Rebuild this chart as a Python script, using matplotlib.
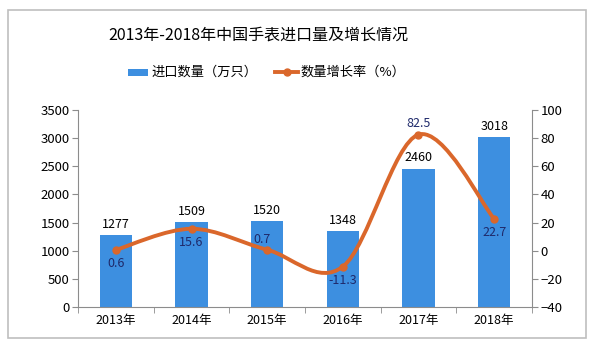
import matplotlib
matplotlib.use("Agg")
import matplotlib.pyplot as plt
from matplotlib.path import Path
from matplotlib.patches import PathPatch, Rectangle
import numpy as np

plt.rcParams['font.family'] = ['Noto Sans CJK SC', 'DejaVu Sans']

years = ['2013年', '2014年', '2015年', '2016年', '2017年', '2018年']
imports = [1277, 1509, 1520, 1348, 2460, 3018]
growth = [0.6, 15.6, 0.7, -11.3, 82.5, 22.7]
title = '2013年-2018年中国手表进口量及增长情况'
bar_name = '进口数量（万只）'
line_name = '数量增长率（%）'

bar_color = '#3D8FE0'
line_color = '#DA672B'
label_blue = '#1F2A6B'
axis_grey = '#8C8C8C'

fig = plt.figure(figsize=(6.0, 3.49), dpi=100)
fig.patches.append(Rectangle((8/600, 1-338/349), 578/600, 328/349, transform=fig.transFigure,
                             fill=False, edgecolor='#BFBFBF', linewidth=1.2))

ax = fig.add_axes([78/600, 1-307/349, 454/600, 197/349])
x = np.arange(len(years))
ax.bar(x, imports, width=0.43, color=bar_color, zorder=2)
ax.set_xlim(-0.5, len(years)-0.5)
ax.set_ylim(0, 3500)
ax.set_yticks(np.arange(0, 3501, 500))
ax.set_xticks(x)
ax.set_xticklabels(years)
ax.set_xticks(np.arange(-0.5, len(years), 1.0), minor=True)
ax.tick_params(axis='x', which='major', length=0, labelsize=9, pad=5)
ax.tick_params(axis='x', which='minor', length=4, color=axis_grey, direction='out')
ax.tick_params(axis='y', length=4, color=axis_grey, labelsize=9.5, pad=2)
for s in ['top', 'right']:
    ax.spines[s].set_visible(False)
for s in ['left', 'bottom']:
    ax.spines[s].set_color(axis_grey)
for xi, v in zip(x, imports):
    ax.annotate(str(v), (xi, v), xytext=(0, 3), textcoords='offset points',
                ha='center', va='bottom', fontsize=9, color='black')

ax2 = ax.twinx()
ax2.set_ylim(-40, 100)
ax2.set_yticks(np.arange(-40, 101, 20))
ax2.tick_params(axis='y', length=4, color=axis_grey, labelsize=9.5, pad=2)
for s in ['top', 'left', 'bottom']:
    ax2.spines[s].set_visible(False)
ax2.spines['right'].set_color(axis_grey)

# smooth Catmull-Rom style Bezier curve through data points
pts = np.column_stack([x, growth]).astype(float)
n = len(pts)
verts = [tuple(pts[0])]
codes = [Path.MOVETO]
for i in range(n-1):
    p0 = pts[max(i-1, 0)]
    p1 = pts[i]
    p2 = pts[i+1]
    p3 = pts[min(i+2, n-1)]
    c1 = p1 + (p2 - p0) / 6.0
    c2 = p2 - (p3 - p1) / 6.0
    verts += [tuple(c1), tuple(c2), tuple(p2)]
    codes += [Path.CURVE4]*3
ax2.add_patch(PathPatch(Path(verts, codes), facecolor='none', edgecolor=line_color,
                        linewidth=2.8, zorder=3, capstyle='round'))
ax2.plot(x, growth, linestyle='none', marker='o', markersize=5, color=line_color, zorder=4)

offsets = [(0, -5, 'top'), (0, -5, 'top'), (-4, 3, 'bottom'), (0, -5, 'top'), (0, 3, 'bottom'), (0, -5, 'top')]
for xi, v, (dx, dy, va) in zip(x, growth, offsets):
    ax2.annotate(f'{v:g}', (xi, v), xytext=(dx, dy), textcoords='offset points',
                 ha='center', va=va, fontsize=9, color=label_blue, zorder=5)

fig.text(258/600, 1-35/349, title, ha='center', va='center', fontsize=11.5,
         fontweight='medium', color='black')

# legend
ly = 1-72/349
fig.patches.append(Rectangle((128/600, ly-3.5/349), 20/600, 7/349, transform=fig.transFigure,
                             facecolor=bar_color, edgecolor='none'))
fig.text(151/600, ly, bar_name, ha='left', va='center', fontsize=9.5)
fig.lines.append(plt.Line2D([275/600, 298/600], [ly, ly], transform=fig.transFigure,
                            color=line_color, linewidth=2.8))
fig.lines.append(plt.Line2D([286.5/600], [ly], transform=fig.transFigure, marker='o',
                            markersize=5, color=line_color))
fig.text(300/600, ly, line_name, ha='left', va='center', fontsize=9.5)

fig.savefig('out.png', dpi=100, facecolor='white')
